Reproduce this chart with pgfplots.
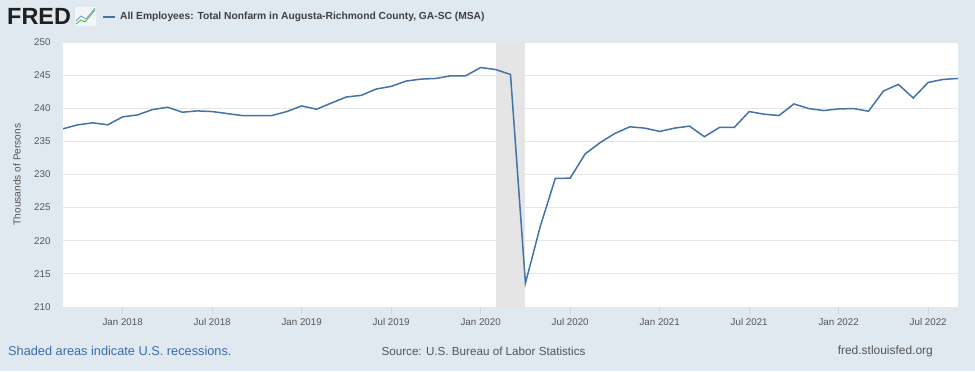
\documentclass[border=0pt]{standalone}
\usepackage{fontspec}
\setmainfont{Liberation Sans}
\usepackage{pgfplots}
\pgfplotsset{compat=1.18}
\definecolor{bg}{HTML}{E1E9F0}
\definecolor{fredblue}{HTML}{4572A7}
\definecolor{txt}{HTML}{555555}
\definecolor{gridc}{HTML}{E6E6E6}
\definecolor{tickc}{HTML}{CCD6EB}
\definecolor{footblue}{HTML}{3A6BAF}
\definecolor{shade}{HTML}{E5E5E5}
\begin{document}
\begin{tikzpicture}[x=1bp,y=1bp]
\fill[bg] (0,0) rectangle (975,371);
\useasboundingbox (0,0) rectangle (975,371);
\begin{axis}[at={(63bp,64bp)}, anchor=south west, scale only axis,
  width=895bp, height=265bp,
  xmin=0, xmax=60, ymin=210, ymax=250,
  axis background/.style={fill=white},
  axis line style={draw=none},
  ytick={210,215,...,250},
  ymajorgrids, grid style={gridc, line width=0.8bp},
  xtick={4,10,...,58},
  xticklabels={Jan 2018, Jul 2018, Jan 2019, Jul 2019, Jan 2020, Jul 2020, Jan 2021, Jul 2021, Jan 2022, Jul 2022},
  tick align=outside, tick pos=left,
  major tick length=7bp,
  xtick style={tickc, line width=0.8bp},
  ytick style={draw=none},
  /pgf/number format/assume math mode=true,
  ticklabel style={font=\fontsize{9.8}{11}\selectfont, color=txt},
  yticklabel style={xshift=-2bp},
  xticklabel style={yshift=-1bp},
  clip=true,
]
\addplot[fill=shade, draw=none] coordinates {(29,210) (29,250) (31,250) (31,210)} -- cycle;
\addplot[fredblue, line width=1.5bp, mark=none] table {
x y
0 236.9
1 237.5
2 237.8
3 237.5
4 238.7
5 239.0
6 239.8
7 240.15
8 239.4
9 239.6
10 239.5
11 239.2
12 238.9
13 238.9
14 238.9
15 239.5
16 240.35
17 239.85
18 240.8
19 241.7
20 241.95
21 242.9
22 243.3
23 244.1
24 244.4
25 244.5
26 244.9
27 244.9
28 246.15
29 245.85
30 245.1
31 213.6
32 222.2
33 229.4
34 229.45
35 233.1
36 234.8
37 236.2
38 237.2
39 237.0
40 236.5
41 237.0
42 237.3
43 235.7
44 237.1
45 237.1
46 239.5
47 239.1
48 238.9
49 240.65
50 239.95
51 239.65
52 239.9
53 239.95
54 239.55
55 242.6
56 243.6
57 241.55
58 243.9
59 244.35
60 244.5
};
\end{axis}
% header
\node[anchor=west, inner sep=0, font=\fontsize{23.5}{24}\selectfont\bfseries, color=black!88] at (7,355) {FRED};
\fill[white!60!bg, rounded corners=1bp] (75,345) rectangle (96,364);
\draw[green!50!gray, line width=0.8bp] (76,347) -- (81,351) -- (85,349) -- (90,355) -- (95,361);
\draw[fredblue!70, line width=0.8bp] (76,350) -- (81,355) -- (86,352) -- (91,358) -- (95,363);
\draw[fredblue, line width=1.5bp] (103,354) -- (115,354);
\node[anchor=west, inner sep=0, font=\fontsize{10.3}{12}\selectfont\bfseries, color=black!75] at (120,354) {All Employees: Total Nonfarm in Augusta-Richmond County, GA-SC (MSA)};
% y label
\node[rotate=90, inner sep=0, font=\fontsize{10.2}{12}\selectfont, color=txt] at (17,196.5) {Thousands of Persons};
% footer
\node[anchor=west, inner sep=0, font=\fontsize{12.8}{14}\selectfont, color=footblue] at (8,20) {Shaded areas indicate U.S. recessions.};
\node[inner sep=0, font=\fontsize{11.7}{14}\selectfont, color=txt] at (483.5,20) {Source: U.S. Bureau of Labor Statistics};
\node[anchor=east, inner sep=0, font=\fontsize{12}{14}\selectfont, color=txt] at (933,20) {fred.stlouisfed.org};
\end{tikzpicture}
\end{document}
